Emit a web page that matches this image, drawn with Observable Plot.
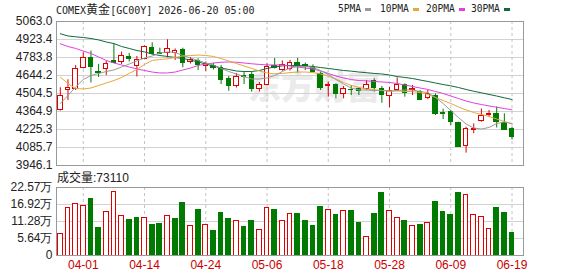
<!DOCTYPE html>
<html><head><meta charset="utf-8">
<script src="https://cdn.jsdelivr.net/npm/d3@7"></script>
<script src="https://cdn.jsdelivr.net/npm/@observablehq/plot@0.6"></script>
<style>
body{margin:0;background:#fff;}
#wrap{position:relative;width:578px;height:276px;overflow:hidden;font-family:"Liberation Sans",Arial,"Noto Sans CJK SC",sans-serif;color:#222;}
.abs{position:absolute;white-space:nowrap;}
#title{left:56px;top:0;height:18px;line-height:18px;font-family:"DejaVu Sans Mono","Noto Sans CJK SC",monospace;font-size:10px;}
#title .cjk{font-family:"Noto Sans CJK SC",sans-serif;font-size:12px;}
.leg{top:0;height:18px;line-height:18px;font-family:"DejaVu Sans Mono",monospace;font-size:9.6px;}
.dash{position:absolute;top:8px;width:6px;height:3px;}
#vlabel{left:57px;top:169px;height:18px;line-height:18px;font-size:12px;}
#price{left:0;top:0;}
#vol{left:0;top:180px;}
</style></head><body>
<div id="wrap">
 <div class="abs" id="price"></div>
 <div class="abs" id="vol"></div>
 <div class="abs" id="title">COMEX<span class="cjk">黄金</span>[GC00Y] 2026-06-20 05:00</div>
 <div class="abs" id="vlabel">成交量:73110</div>
</div>
<script>
const dates = ["03-27","03-30","03-31","04-01","04-02","04-06","04-07","04-08","04-09","04-10",
"04-13","04-14","04-15","04-16","04-17","04-20","04-21","04-22","04-23","04-24",
"04-27","04-28","04-29","04-30","05-01","05-04","05-05","05-06","05-07","05-08",
"05-11","05-12","05-13","05-14","05-15","05-18","05-19","05-20","05-21","05-22",
"05-25","05-26","05-27","05-28","05-29","06-01","06-02","06-03","06-04","06-05",
"06-08","06-09","06-10","06-11","06-12","06-15","06-16","06-17","06-18","06-19"];

const opens = [4378,4528,4541,4699,4781,4675,4691,4753,4747,4788,
4718,4776,4856,4820,4817,4817,4843,4745,4755,4718,
4718,4702,4619,4559,4642,4648,4536,4571,4714,4687,
4696,4740,4726,4704,4657,4559,4574,4497,4533,4541,
4536,4605,4541,4489,4528,4574,4533,4515,4470,4489,
4352,4360,4274,4101,4225,4290,4338,4347,4274,4231];
const highs = [4549,4611,4722,4820,4834,4730,4753,4890,4826,4815,
4792,4873,4898,4856,4921,4850,4856,4784,4774,4749,
4737,4722,4636,4660,4667,4667,4590,4735,4776,4757,
4761,4778,4741,4727,4670,4592,4580,4559,4567,4549,
4605,4619,4559,4553,4626,4580,4567,4528,4528,4502,
4383,4373,4282,4243,4269,4384,4373,4400,4347,4243];
const lows = [4368,4450,4528,4696,4586,4629,4644,4740,4729,4749,
4633,4768,4803,4805,4781,4761,4704,4733,4683,4677,
4687,4574,4522,4547,4574,4515,4516,4563,4695,4677,
4679,4662,4683,4670,4528,4476,4463,4463,4489,4489,
4528,4515,4429,4394,4520,4476,4489,4450,4456,4334,
4303,4256,4088,4042,4192,4282,4318,4237,4217,4144];
const closes = [4489,4546,4696,4781,4710,4662,4735,4743,4792,4776,
4768,4865,4812,4810,4846,4838,4743,4761,4722,4733,
4706,4613,4559,4636,4633,4536,4567,4708,4703,4722,
4740,4718,4716,4675,4546,4574,4497,4541,4528,4522,
4574,4549,4494,4522,4567,4507,4541,4458,4502,4347,
4344,4280,4093,4231,4233,4332,4347,4280,4223,4171];
const volumes = [71700,157600,170800,165200,187300,90200,145400,211500,132200,119000,
125600,124500,102400,105700,132200,121300,175100,99100,152000,102400,
82600,139800,121300,115700,93500,115700,85900,157600,152000,115700,
137800,137800,113300,99100,161900,152000,135500,148700,148700,106700,
62800,138800,205900,148700,124600,115700,99100,102400,108000,176100,
143100,135500,205900,200600,134500,128900,88200,157600,139800,73110];

const ma5 = [4427,4489,4555,4613,4644,4660,4675,4687,4710,4733,
4757,4780,4795,4819,4827,4823,4799,4780,4761,4741,
4726,4699,4675,4656,4636,4617,4617,4625,4644,4675,
4702,4714,4714,4706,4683,4652,4613,4578,4547,4532,
4532,4528,4528,4522,4528,4532,4532,4520,4512,4474,
4427,4373,4318,4268,4237,4229,4241,4272,4284,4272];
const ma10 = [4631,4582,4543,4540,4547,4567,4586,4605,4629,4660,
4691,4730,4761,4768,4774,4784,4795,4799,4803,4799,
4792,4776,4757,4737,4718,4699,4679,4664,4657,4660,
4667,4671,4671,4667,4656,4640,4617,4590,4567,4551,
4540,4533,4528,4524,4524,4520,4520,4512,4497,4474,
4450,4427,4400,4377,4357,4342,4326,4307,4287,4268];
const ma20 = [4890,4869,4854,4834,4815,4788,4761,4741,4726,4710,
4695,4683,4671,4664,4664,4671,4687,4702,4722,4733,
4741,4747,4749,4747,4741,4735,4730,4726,4726,4726,
4718,4710,4702,4695,4679,4660,4640,4625,4613,4605,
4602,4598,4594,4590,4582,4571,4559,4547,4536,4520,
4505,4485,4466,4446,4431,4419,4408,4398,4388,4378];
const ma30 = [4968,4951,4944,4939,4931,4920,4904,4892,4869,4854,
4838,4827,4811,4799,4792,4784,4776,4764,4749,4733,
4718,4702,4691,4679,4675,4675,4683,4699,4710,4719,
4722,4722,4718,4714,4706,4699,4691,4683,4678,4671,
4666,4660,4656,4648,4636,4629,4621,4609,4598,4586,
4574,4564,4551,4536,4522,4510,4497,4485,4471,4458];

const priceTicks = [3946.1,4085.7,4225.3,4364.9,4504.5,4644.2,4783.8,4923.4,5063.0];
const volTicks = [0,56400,112800,169200,225700];
const volTickLabels = ["0","5.64万","11.28万","16.92万","22.57万"];
const dateTicks = ["04-01","04-14","04-24","05-06","05-18","05-28","06-09","06-19"];
const legendNames = ["5PMA","10PMA","20PMA","30PMA"];

const RED = "#e00000", GREEN = "#007a00";
const MA_COLORS = ["#9a9a9a","#e6a83a","#e040e0","#0f6a3c"];

const rows = dates.map((date,i)=>({
  i, date, open:opens[i], high:highs[i], low:lows[i], close:closes[i], vol:volumes[i],
  ma5:ma5[i], ma10:ma10[i], ma20:ma20[i], ma30:ma30[i],
  up: closes[i] >= opens[i],
  vup: i === 0 ? closes[i] >= opens[i] : closes[i] >= closes[i-1]
}));
const tickIdx = dateTicks.map(d => dates.indexOf(d));
const XD = [-0.5, dates.length + 0.5];
const W = 578, ML = 56, MR = 55;

const price = Plot.plot({
  width: W, height: 180, marginLeft: ML, marginRight: MR, marginTop: 21, marginBottom: 15,
  x: {domain: XD, axis: null},
  y: {domain: [priceTicks[0], priceTicks[priceTicks.length-1]], axis: null},
  style: {background: "transparent", fontFamily: "Liberation Sans, Arial, sans-serif", fontSize: "12px", color: "#222"},
  marks: [
    Plot.text(["东方财富"], {text: d => d, frameAnchor: "middle", dx: 24, dy: -5, fontSize: 33, fontWeight: 900, fill: "#ebebeb", fontFamily: "Noto Sans CJK SC"}),
    Plot.ruleY(priceTicks, {stroke: "#d2d2d2"}),
    Plot.ruleX(tickIdx, {stroke: "#c4c4c4", strokeDasharray: "3,3"}),
    Plot.ruleX(rows, {x: "i", y1: "low", y2: "high", stroke: d => d.up ? RED : GREEN}),
    Plot.rect(rows, {x1: d => d.i - 0.29, x2: d => d.i + 0.29, y1: "open", y2: "close",
      fill: d => d.up ? "#ffffff" : GREEN, stroke: d => d.up ? RED : GREEN, shapeRendering: "crispEdges"}),
    Plot.line(rows, {x: "i", y: "ma30", stroke: MA_COLORS[3], strokeWidth: 1}),
    Plot.line(rows, {x: "i", y: "ma20", stroke: MA_COLORS[2], strokeWidth: 1}),
    Plot.line(rows, {x: "i", y: "ma10", stroke: MA_COLORS[1], strokeWidth: 1}),
    Plot.line(rows, {x: "i", y: "ma5", stroke: MA_COLORS[0], strokeWidth: 1}),
    Plot.frame({stroke: "#999"}),
    Plot.axisY(priceTicks, {tickSize: 0, tickPadding: 4, tickFormat: d => d.toFixed(1), label: null, fill: "#222"})
  ]
});
document.getElementById("price").appendChild(price);

const vol = Plot.plot({
  width: W, height: 96, marginLeft: ML, marginRight: MR, marginTop: 7, marginBottom: 21,
  x: {domain: XD, axis: null},
  y: {domain: [0, volTicks[volTicks.length-1]], axis: null},
  style: {background: "transparent", fontFamily: "Liberation Sans, Arial, sans-serif", fontSize: "12px", color: "#222"},
  marks: [
    Plot.ruleY(volTicks, {stroke: "#d2d2d2"}),
    Plot.ruleX(tickIdx, {stroke: "#c4c4c4", strokeDasharray: "3,3"}),
    Plot.rect(rows, {x1: d => d.i - 0.31, x2: d => d.i + 0.31, y1: 0, y2: "vol",
      fill: d => d.vup ? "#ffffff" : GREEN, stroke: d => d.vup ? RED : GREEN, shapeRendering: "crispEdges"}),
    Plot.frame({stroke: "#999"}),
    Plot.axisY(volTicks, {tickSize: 0, tickPadding: 4, tickFormat: d => volTickLabels[volTicks.indexOf(d)], label: null, fill: "#222"}),
    Plot.axisX(tickIdx, {tickSize: 0, tickPadding: 5, tickFormat: i => dates[i], label: null, fill: "#cc0000"})
  ]
});
document.getElementById("vol").appendChild(vol);

// legend
const wrap = document.getElementById("wrap");
const legX = [338, 380, 426, 471];
legendNames.forEach((name, k) => {
  const t = document.createElement("div");
  t.className = "abs leg";
  t.style.left = legX[k] + "px";
  t.textContent = name;
  wrap.appendChild(t);
  const w = name.length * 5.8;
  const dsh = document.createElement("div");
  dsh.className = "dash";
  dsh.style.left = (legX[k] + w + 4) + "px";
  dsh.style.background = MA_COLORS[k];
  wrap.appendChild(dsh);
});
</script>
</body></html>
